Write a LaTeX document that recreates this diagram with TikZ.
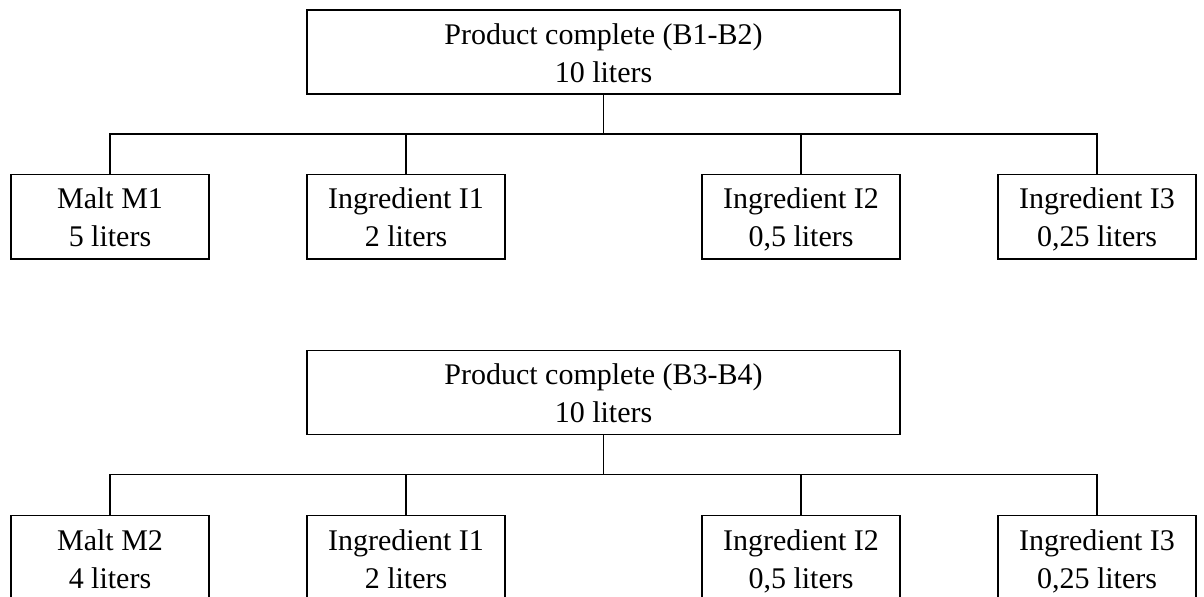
\documentclass[tikz,border=0pt]{standalone}
\usepackage{fontspec}
\setmainfont{Liberation Serif}
\newcommand\boxline[1]{\rule{0pt}{11pt}\smash{#1}}
\begin{document}
\begin{tikzpicture}[x=0.5pt,y=-0.5pt,
  boxbase/.style={draw=black,line width=0.7pt,align=center,inner sep=0pt,
    font=\fontsize{15}{19}\selectfont},
  topbox/.style={boxbase,minimum width=296.5pt,minimum height=42pt},
  childbox/.style={boxbase,minimum width=99pt,minimum height=42.25pt},
  link/.style={draw=black,line width=0.7pt}]
\useasboundingbox (0,0) rectangle (1204,596);
% tree 1
\node[topbox] (t1) at (603.5,52) {\boxline{Product complete (B1-B2)}\\\boxline{10 liters}};
\coordinate (bus1) at (603.5,134);
\node[childbox] (a1) at (110,216.75) {\boxline{Malt M1}\\\boxline{5 liters}};
\node[childbox] (b1) at (406,216.75) {\boxline{Ingredient I1}\\\boxline{2 liters}};
\node[childbox] (c1) at (801,216.75) {\boxline{Ingredient I2}\\\boxline{0,5 liters}};
\node[childbox] (d1) at (1097,216.75) {\boxline{Ingredient I3}\\\boxline{0,25 liters}};
\draw[link] (t1.south) -- (bus1);
\draw[link] (a1.north) |- (bus1);
\draw[link] (b1.north) |- (bus1);
\draw[link] (c1.north) |- (bus1);
\draw[link] (d1.north) |- (bus1);
% tree 2
\node[topbox] (t2) at (603.5,392.5) {\boxline{Product complete (B3-B4)}\\\boxline{10 liters}};
\coordinate (bus2) at (603.5,474.5);
\node[childbox] (a2) at (110,558) {\boxline{Malt M2}\\\boxline{4 liters}};
\node[childbox] (b2) at (406,558) {\boxline{Ingredient I1}\\\boxline{2 liters}};
\node[childbox] (c2) at (801,558) {\boxline{Ingredient I2}\\\boxline{0,5 liters}};
\node[childbox] (d2) at (1097,558) {\boxline{Ingredient I3}\\\boxline{0,25 liters}};
\draw[link] (t2.south) -- (bus2);
\draw[link] (a2.north) |- (bus2);
\draw[link] (b2.north) |- (bus2);
\draw[link] (c2.north) |- (bus2);
\draw[link] (d2.north) |- (bus2);
\end{tikzpicture}
\end{document}
